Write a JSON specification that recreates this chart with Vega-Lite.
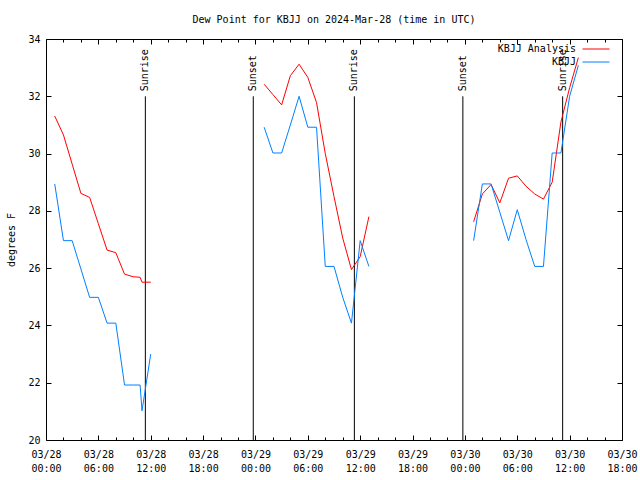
{
  "$schema": "https://vega.github.io/schema/vega-lite/v6.json",
  "width": 576,
  "height": 401,
  "autosize": {"type": "none"},
  "padding": {"left": 46, "top": 39, "right": 18, "bottom": 40},
  "background": "white",
  "title": {"text": "Dew Point for KBJJ on 2024-Mar-28 (time in UTC)", "font": "DejaVu Sans Mono", "fontSize": 10, "fontWeight": "normal", "color": "black", "offset": 9},
  "config": {
    "view": {"stroke": "black", "strokeWidth": 1},
    "axis": {"labelFont": "DejaVu Sans Mono", "labelFontSize": 10, "labelColor": "black", "titleFont": "DejaVu Sans Mono", "titleFontSize": 10, "titleFontWeight": "normal", "titleColor": "black", "domainColor": "black", "tickColor": "black", "grid": false, "labelFlush": false, "labelBound": false, "labelOverlap": false},
    "text": {"font": "DejaVu Sans Mono", "fontSize": 10, "color": "black"}
  },
  "datasets": {
    "obs": [
      {"time": "2024-03-28T01:00:00Z", "series": "KBJJ Analysis", "seg": 1, "value": 31.31},
      {"time": "2024-03-28T02:00:00Z", "series": "KBJJ Analysis", "seg": 1, "value": 30.65},
      {"time": "2024-03-28T03:00:00Z", "series": "KBJJ Analysis", "seg": 1, "value": 29.63},
      {"time": "2024-03-28T04:00:00Z", "series": "KBJJ Analysis", "seg": 1, "value": 28.61},
      {"time": "2024-03-28T05:00:00Z", "series": "KBJJ Analysis", "seg": 1, "value": 28.47},
      {"time": "2024-03-28T06:00:00Z", "series": "KBJJ Analysis", "seg": 1, "value": 27.55},
      {"time": "2024-03-28T07:00:00Z", "series": "KBJJ Analysis", "seg": 1, "value": 26.63},
      {"time": "2024-03-28T08:00:00Z", "series": "KBJJ Analysis", "seg": 1, "value": 26.54},
      {"time": "2024-03-28T09:00:00Z", "series": "KBJJ Analysis", "seg": 1, "value": 25.79},
      {"time": "2024-03-28T10:00:00Z", "series": "KBJJ Analysis", "seg": 1, "value": 25.70},
      {"time": "2024-03-28T10:47:00Z", "series": "KBJJ Analysis", "seg": 1, "value": 25.68},
      {"time": "2024-03-28T11:00:00Z", "series": "KBJJ Analysis", "seg": 1, "value": 25.51},
      {"time": "2024-03-28T12:00:00Z", "series": "KBJJ Analysis", "seg": 1, "value": 25.51},
      {"time": "2024-03-29T01:00:00Z", "series": "KBJJ Analysis", "seg": 2, "value": 32.42},
      {"time": "2024-03-29T02:00:00Z", "series": "KBJJ Analysis", "seg": 2, "value": 32.06},
      {"time": "2024-03-29T03:00:00Z", "series": "KBJJ Analysis", "seg": 2, "value": 31.70},
      {"time": "2024-03-29T04:00:00Z", "series": "KBJJ Analysis", "seg": 2, "value": 32.72},
      {"time": "2024-03-29T05:00:00Z", "series": "KBJJ Analysis", "seg": 2, "value": 33.12},
      {"time": "2024-03-29T06:00:00Z", "series": "KBJJ Analysis", "seg": 2, "value": 32.66},
      {"time": "2024-03-29T07:00:00Z", "series": "KBJJ Analysis", "seg": 2, "value": 31.78},
      {"time": "2024-03-29T08:00:00Z", "series": "KBJJ Analysis", "seg": 2, "value": 30.00},
      {"time": "2024-03-29T09:00:00Z", "series": "KBJJ Analysis", "seg": 2, "value": 28.50},
      {"time": "2024-03-29T10:00:00Z", "series": "KBJJ Analysis", "seg": 2, "value": 27.05},
      {"time": "2024-03-29T11:00:00Z", "series": "KBJJ Analysis", "seg": 2, "value": 25.95},
      {"time": "2024-03-29T12:00:00Z", "series": "KBJJ Analysis", "seg": 2, "value": 26.40},
      {"time": "2024-03-29T13:00:00Z", "series": "KBJJ Analysis", "seg": 2, "value": 27.80},
      {"time": "2024-03-30T01:00:00Z", "series": "KBJJ Analysis", "seg": 3, "value": 27.62},
      {"time": "2024-03-30T02:00:00Z", "series": "KBJJ Analysis", "seg": 3, "value": 28.59},
      {"time": "2024-03-30T03:00:00Z", "series": "KBJJ Analysis", "seg": 3, "value": 28.92},
      {"time": "2024-03-30T04:00:00Z", "series": "KBJJ Analysis", "seg": 3, "value": 28.28},
      {"time": "2024-03-30T05:00:00Z", "series": "KBJJ Analysis", "seg": 3, "value": 29.14},
      {"time": "2024-03-30T06:00:00Z", "series": "KBJJ Analysis", "seg": 3, "value": 29.22},
      {"time": "2024-03-30T07:00:00Z", "series": "KBJJ Analysis", "seg": 3, "value": 28.86},
      {"time": "2024-03-30T08:00:00Z", "series": "KBJJ Analysis", "seg": 3, "value": 28.59},
      {"time": "2024-03-30T09:00:00Z", "series": "KBJJ Analysis", "seg": 3, "value": 28.41},
      {"time": "2024-03-30T10:00:00Z", "series": "KBJJ Analysis", "seg": 3, "value": 29.00},
      {"time": "2024-03-30T11:00:00Z", "series": "KBJJ Analysis", "seg": 3, "value": 31.10},
      {"time": "2024-03-30T12:00:00Z", "series": "KBJJ Analysis", "seg": 3, "value": 32.30},
      {"time": "2024-03-30T13:00:00Z", "series": "KBJJ Analysis", "seg": 3, "value": 33.35},
      {"time": "2024-03-28T01:00:00Z", "series": "KBJJ", "seg": 1, "value": 28.94},
      {"time": "2024-03-28T02:00:00Z", "series": "KBJJ", "seg": 1, "value": 26.96},
      {"time": "2024-03-28T03:00:00Z", "series": "KBJJ", "seg": 1, "value": 26.96},
      {"time": "2024-03-28T04:00:00Z", "series": "KBJJ", "seg": 1, "value": 25.97},
      {"time": "2024-03-28T05:00:00Z", "series": "KBJJ", "seg": 1, "value": 24.98},
      {"time": "2024-03-28T06:00:00Z", "series": "KBJJ", "seg": 1, "value": 24.98},
      {"time": "2024-03-28T07:00:00Z", "series": "KBJJ", "seg": 1, "value": 24.08},
      {"time": "2024-03-28T08:00:00Z", "series": "KBJJ", "seg": 1, "value": 24.08},
      {"time": "2024-03-28T09:00:00Z", "series": "KBJJ", "seg": 1, "value": 21.92},
      {"time": "2024-03-28T10:00:00Z", "series": "KBJJ", "seg": 1, "value": 21.92},
      {"time": "2024-03-28T10:47:00Z", "series": "KBJJ", "seg": 1, "value": 21.92},
      {"time": "2024-03-28T11:00:00Z", "series": "KBJJ", "seg": 1, "value": 21.02},
      {"time": "2024-03-28T12:00:00Z", "series": "KBJJ", "seg": 1, "value": 23.00},
      {"time": "2024-03-29T01:00:00Z", "series": "KBJJ", "seg": 2, "value": 30.92},
      {"time": "2024-03-29T02:00:00Z", "series": "KBJJ", "seg": 2, "value": 30.02},
      {"time": "2024-03-29T03:00:00Z", "series": "KBJJ", "seg": 2, "value": 30.02},
      {"time": "2024-03-29T04:00:00Z", "series": "KBJJ", "seg": 2, "value": 31.00},
      {"time": "2024-03-29T05:00:00Z", "series": "KBJJ", "seg": 2, "value": 32.00},
      {"time": "2024-03-29T06:00:00Z", "series": "KBJJ", "seg": 2, "value": 30.92},
      {"time": "2024-03-29T07:00:00Z", "series": "KBJJ", "seg": 2, "value": 30.92},
      {"time": "2024-03-29T08:00:00Z", "series": "KBJJ", "seg": 2, "value": 26.06},
      {"time": "2024-03-29T09:00:00Z", "series": "KBJJ", "seg": 2, "value": 26.06},
      {"time": "2024-03-29T10:00:00Z", "series": "KBJJ", "seg": 2, "value": 24.98},
      {"time": "2024-03-29T11:00:00Z", "series": "KBJJ", "seg": 2, "value": 24.08},
      {"time": "2024-03-29T12:00:00Z", "series": "KBJJ", "seg": 2, "value": 26.96},
      {"time": "2024-03-29T13:00:00Z", "series": "KBJJ", "seg": 2, "value": 26.06},
      {"time": "2024-03-30T01:00:00Z", "series": "KBJJ", "seg": 3, "value": 26.96},
      {"time": "2024-03-30T02:00:00Z", "series": "KBJJ", "seg": 3, "value": 28.94},
      {"time": "2024-03-30T03:00:00Z", "series": "KBJJ", "seg": 3, "value": 28.94},
      {"time": "2024-03-30T04:00:00Z", "series": "KBJJ", "seg": 3, "value": 27.95},
      {"time": "2024-03-30T05:00:00Z", "series": "KBJJ", "seg": 3, "value": 26.96},
      {"time": "2024-03-30T06:00:00Z", "series": "KBJJ", "seg": 3, "value": 28.04},
      {"time": "2024-03-30T07:00:00Z", "series": "KBJJ", "seg": 3, "value": 27.00},
      {"time": "2024-03-30T08:00:00Z", "series": "KBJJ", "seg": 3, "value": 26.06},
      {"time": "2024-03-30T09:00:00Z", "series": "KBJJ", "seg": 3, "value": 26.06},
      {"time": "2024-03-30T10:00:00Z", "series": "KBJJ", "seg": 3, "value": 30.02},
      {"time": "2024-03-30T11:00:00Z", "series": "KBJJ", "seg": 3, "value": 30.02},
      {"time": "2024-03-30T12:00:00Z", "series": "KBJJ", "seg": 3, "value": 32.00},
      {"time": "2024-03-30T13:00:00Z", "series": "KBJJ", "seg": 3, "value": 33.08}
    ],
    "events": [
      {"time": "2024-03-28T11:23:00Z", "label": "Sunrise"},
      {"time": "2024-03-28T23:45:00Z", "label": "Sunset"},
      {"time": "2024-03-29T11:20:00Z", "label": "Sunrise"},
      {"time": "2024-03-29T23:46:00Z", "label": "Sunset"},
      {"time": "2024-03-30T11:12:00Z", "label": "Sunrise"}
    ]
  },
  "resolve": {"axis": {"x": "independent"}},
  "layer": [
    {
      "data": {"name": "events"},
      "mark": {"type": "rule", "color": "black", "strokeWidth": 1},
      "encoding": {
        "x": {"field": "time", "type": "temporal", "scale": {"type": "utc", "domain": [1711584000000, 1711821600000]},
              "axis": {"orient": "top", "labels": false, "title": null, "domain": false, "tickSize": -5,
                       "values": [1711584000000, 1711605600000, 1711627200000, 1711648800000, 1711670400000, 1711692000000, 1711713600000, 1711735200000, 1711756800000, 1711778400000, 1711800000000, 1711821600000]}},
        "y": {"datum": 32, "type": "quantitative", "scale": {"domain": [20, 34], "nice": false, "zero": false},
              "axis": {"orient": "right", "labels": false, "title": null, "domain": false, "values": [20, 22, 24, 26, 28, 30, 32, 34], "tickSize": -5}},
        "y2": {"datum": 20}
      }
    },
    {
      "data": {"name": "events"},
      "mark": {"type": "text", "angle": 270, "align": "left", "baseline": "middle", "dx": 5, "font": "DejaVu Sans Mono", "fontSize": 10, "color": "black"},
      "encoding": {
        "x": {"field": "time", "type": "temporal", "axis": null},
        "y": {"datum": 32, "type": "quantitative", "axis": null},
        "text": {"field": "label"}
      }
    },
    {
      "data": {"name": "events"},
      "mark": {"type": "rule", "opacity": 0},
      "encoding": {
        "x": {"field": "time", "type": "temporal",
              "axis": {"orient": "bottom", "labels": false, "title": null, "domain": false, "tickSize": -3,
                       "values": [1711591200000, 1711598400000, 1711612800000, 1711620000000, 1711634400000, 1711641600000, 1711656000000, 1711663200000, 1711677600000, 1711684800000, 1711699200000, 1711706400000, 1711720800000, 1711728000000, 1711742400000, 1711749600000, 1711764000000, 1711771200000, 1711785600000, 1711792800000, 1711807200000, 1711814400000]}}
      }
    },
    {
      "data": {"name": "events"},
      "mark": {"type": "rule", "opacity": 0},
      "encoding": {
        "x": {"field": "time", "type": "temporal",
              "axis": {"orient": "top", "labels": false, "title": null, "domain": false, "tickSize": -3,
                       "values": [1711591200000, 1711598400000, 1711612800000, 1711620000000, 1711634400000, 1711641600000, 1711656000000, 1711663200000, 1711677600000, 1711684800000, 1711699200000, 1711706400000, 1711720800000, 1711728000000, 1711742400000, 1711749600000, 1711764000000, 1711771200000, 1711785600000, 1711792800000, 1711807200000, 1711814400000]}}
      }
    },
    {
      "data": {"name": "obs"},
      "mark": {"type": "line", "strokeWidth": 1, "clip": true},
      "encoding": {
        "x": {"field": "time", "type": "temporal",
              "axis": {"orient": "bottom", "title": null, "domain": false, "tickSize": -5, "labelPadding": 14, "labelLineHeight": 14,
                       "values": [1711584000000, 1711605600000, 1711627200000, 1711648800000, 1711670400000, 1711692000000, 1711713600000, 1711735200000, 1711756800000, 1711778400000, 1711800000000, 1711821600000],
                       "labelExpr": "[utcFormat(datum.value, '%m/%d'), utcFormat(datum.value, '%H:%M')]"}},
        "y": {"field": "value", "type": "quantitative",
              "axis": {"orient": "left", "title": "degrees F", "domain": false, "values": [20, 22, 24, 26, 28, 30, 32, 34], "tickSize": -5, "labelPadding": 11, "titlePadding": 11}},
        "color": {"field": "series", "type": "nominal",
                  "scale": {"domain": ["KBJJ Analysis", "KBJJ"], "range": ["#ff0000", "#0080ff"]},
                  "legend": {"orient": "none", "legendX": 545, "legendY": 5, "title": null, "symbolType": "M-3,0H3", "symbolSize": 81, "symbolStrokeWidth": 1, "symbolFillColor": "transparent",
                             "labelAlign": "right", "labelOffset": -25, "labelFont": "DejaVu Sans Mono", "labelFontSize": 10, "labelColor": "black", "rowPadding": 3}},
        "detail": {"field": "seg", "type": "nominal"}
      }
    }
  ]
}
